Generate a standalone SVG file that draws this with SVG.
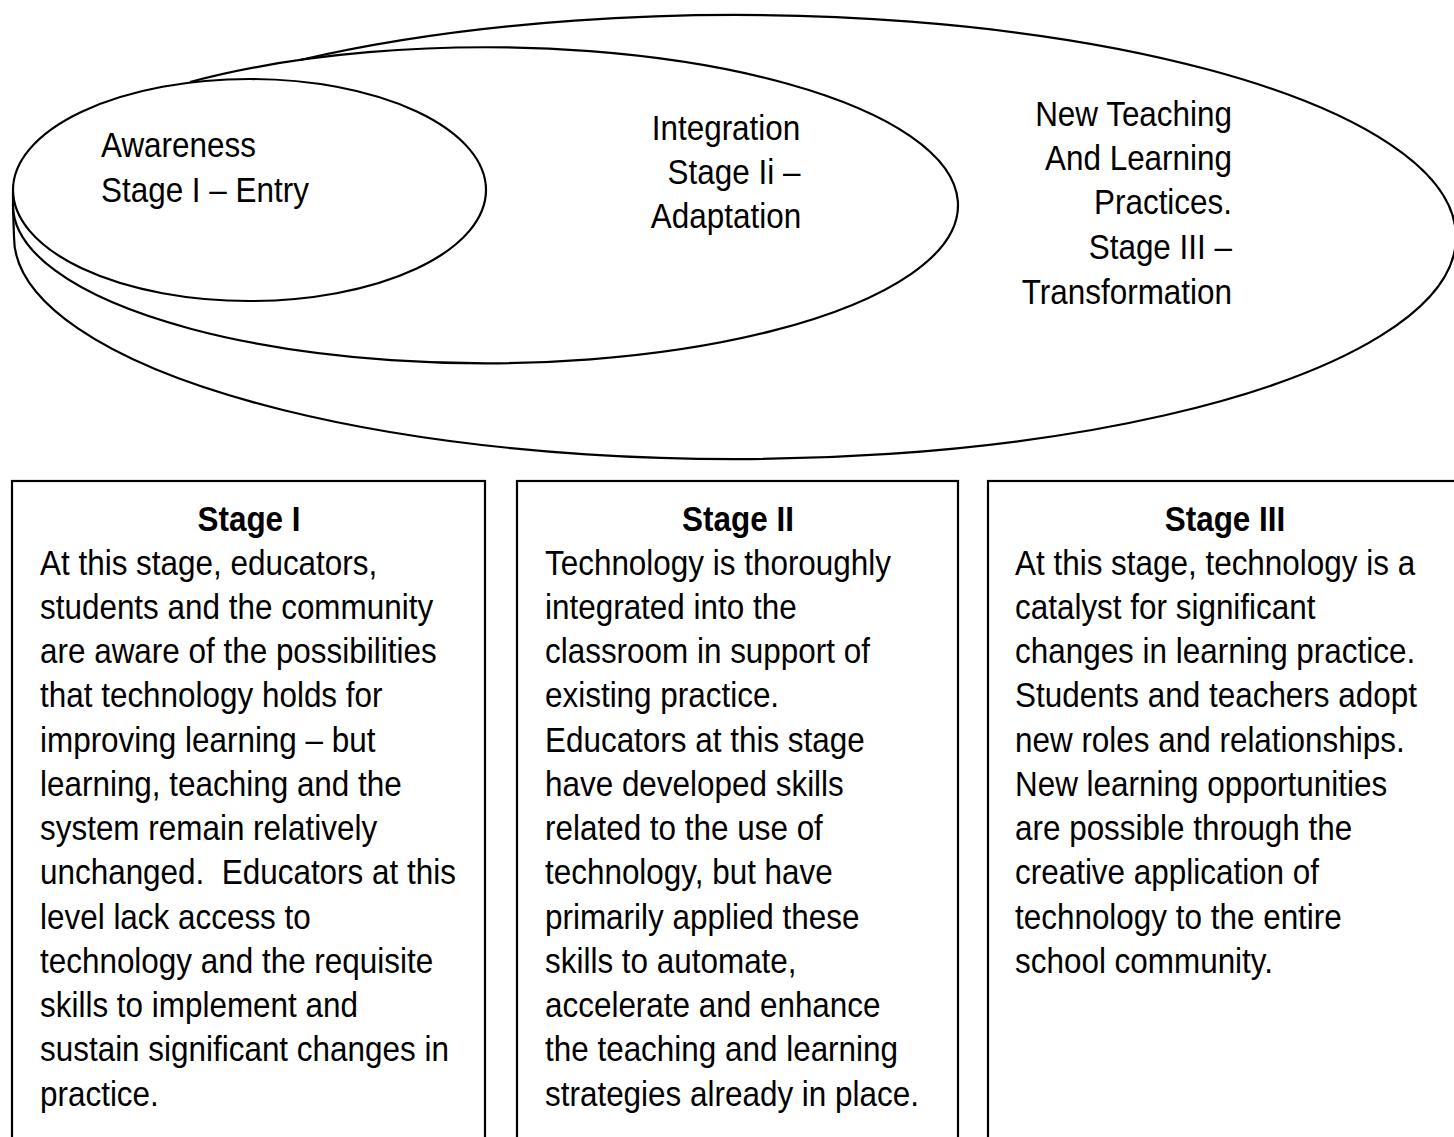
<svg xmlns="http://www.w3.org/2000/svg" width="1454" height="1137" viewBox="0 0 1454 1137">
<style>
.ln{fill:none;stroke:#000;stroke-width:2.2}
.t{font-family:"Liberation Sans",Arial,sans-serif;font-size:35.5px;fill:#000}
.b{font-weight:bold}
</style>
<rect width="1454" height="1137" fill="#fff"/>
<g id="stage3-ellipse">
<path class="ln" d="M300,60 A721,222 0 1 1 14,237 L13,208"/>
<text class="t" text-anchor="end" transform="translate(1232,0) scale(0.886,1)"><tspan x="0" y="126">New Teaching</tspan><tspan x="0" y="170">And Learning</tspan><tspan x="0" y="214">Practices.</tspan><tspan x="0" y="259">Stage III –</tspan><tspan x="0" y="304">Transformation</tspan></text>
</g>
<g id="stage2-ellipse">
<path class="ln" d="M190,82 A472.5,158 0 1 1 13,205 L13,192"/>
<text class="t" text-anchor="middle" transform="translate(726,0) scale(0.886,1)"><tspan x="0" y="140">Integration</tspan><tspan x="9" y="184">Stage Ii –</tspan><tspan x="0" y="228">Adaptation</tspan></text>
</g>
<g id="stage1-ellipse">
<ellipse class="ln" cx="249.5" cy="190" rx="236.5" ry="111"/>
<text class="t" transform="translate(101,0) scale(0.886,1)"><tspan x="0" y="157">Awareness</tspan><tspan x="0" y="202">Stage I – Entry</tspan></text>
</g>
<g id="connectors"/>
<g id="stage1-box">
<rect class="ln" x="12" y="481" width="473" height="700"/>
<text class="t b" text-anchor="middle" transform="translate(249,0) scale(0.886,1)"><tspan x="0" y="531">Stage I</tspan></text>
<text class="t" transform="translate(40,0) scale(0.886,1)"><tspan x="0" y="575">At this stage, educators,</tspan><tspan x="0" y="619">students and the community</tspan><tspan x="0" y="663">are aware of the possibilities</tspan><tspan x="0" y="707">that technology holds for</tspan><tspan x="0" y="752">improving learning – but</tspan><tspan x="0" y="796">learning, teaching and the</tspan><tspan x="0" y="840">system remain relatively</tspan><tspan x="0" y="884">unchanged.&#160; Educators at this</tspan><tspan x="0" y="929">level lack access to</tspan><tspan x="0" y="973">technology and the requisite</tspan><tspan x="0" y="1017">skills to implement and</tspan><tspan x="0" y="1061">sustain significant changes in</tspan><tspan x="0" y="1106">practice.</tspan></text>
</g>
<g id="stage2-box">
<rect class="ln" x="517" y="481" width="441" height="700"/>
<text class="t b" text-anchor="middle" transform="translate(738,0) scale(0.886,1)"><tspan x="0" y="531">Stage II</tspan></text>
<text class="t" transform="translate(545,0) scale(0.886,1)"><tspan x="0" y="575">Technology is thoroughly</tspan><tspan x="0" y="619">integrated into the</tspan><tspan x="0" y="663">classroom in support of</tspan><tspan x="0" y="707">existing practice.</tspan><tspan x="0" y="752">Educators at this stage</tspan><tspan x="0" y="796">have developed skills</tspan><tspan x="0" y="840">related to the use of</tspan><tspan x="0" y="884">technology, but have</tspan><tspan x="0" y="929">primarily applied these</tspan><tspan x="0" y="973">skills to automate,</tspan><tspan x="0" y="1017">accelerate and enhance</tspan><tspan x="0" y="1061">the teaching and learning</tspan><tspan x="0" y="1106">strategies already in place.</tspan></text>
</g>
<g id="stage3-box">
<rect class="ln" x="988" y="481" width="480" height="700"/>
<text class="t b" text-anchor="middle" transform="translate(1225,0) scale(0.886,1)"><tspan x="0" y="531">Stage III</tspan></text>
<text class="t" transform="translate(1015,0) scale(0.886,1)"><tspan x="0" y="575">At this stage, technology is a</tspan><tspan x="0" y="619">catalyst for significant</tspan><tspan x="0" y="663">changes in learning practice.</tspan><tspan x="0" y="707">Students and teachers adopt</tspan><tspan x="0" y="752">new roles and relationships.</tspan><tspan x="0" y="796">New learning opportunities</tspan><tspan x="0" y="840">are possible through the</tspan><tspan x="0" y="884">creative application of</tspan><tspan x="0" y="929">technology to the entire</tspan><tspan x="0" y="973">school community.</tspan></text>
</g>
</svg>
